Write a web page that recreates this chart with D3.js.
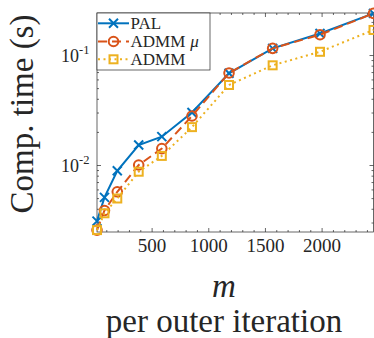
<!DOCTYPE html>
<html><head><meta charset="utf-8">
<script src="https://cdn.jsdelivr.net/npm/d3@7"></script>
<style>
html,body{margin:0;padding:0;background:#fff;}
svg{display:block;}
</style></head><body>
<svg id="c" width="374" height="338"></svg>
<script>
const mValues = [18, 84, 197, 386, 590, 856, 1183, 1568, 1986, 2458];
const palTimes = [0.00309, 0.00508, 0.00887, 0.0152, 0.0181, 0.0300, 0.0682, 0.115, 0.157, 0.239];
const admmMuTimes = [0.00256, 0.00386, 0.00571, 0.0100, 0.0141, 0.0279, 0.0686, 0.115, 0.153, 0.239];
const admmTimes = [0.00256, 0.00364, 0.00496, 0.00869, 0.0121, 0.0221, 0.0534, 0.0806, 0.107, 0.169];
const seriesNames = ["PAL", "ADMM", "ADMM"];
const xTickValues = [500, 1000, 1500, 2000];
const yTickValues = [0.01, 0.1];
const yTickExponents = ["-2", "-1"];
const xLimits = [18, 2458];
const yLimits = [0.00246, 0.241];

const FONT = "Liberation Serif";
const svg = d3.select("#c");
const L = 97, R = 373.5, T = 13, B = 232;
const x = d3.scaleLinear().domain(xLimits).range([L, R]);
const y = d3.scaleLog().domain(yLimits).range([B, T]);
const axisColor = "#262626";

const gx = svg.append("g").attr("transform", `translate(0,${B})`)
  .call(d3.axisBottom(x).tickValues(xTickValues).tickSize(-4).tickSizeOuter(0).tickPadding(7).tickFormat(d3.format("d")));
svg.append("g").attr("transform", `translate(0,${T})`)
  .call(d3.axisTop(x).tickValues(xTickValues).tickSize(-4).tickSizeOuter(0).tickFormat(""));
const minorX = d3.range(100, 2458, 100).filter(v => v % 500 !== 0);
svg.append("g").attr("transform", `translate(0,${B})`)
  .call(d3.axisBottom(x).tickValues(minorX).tickSize(-2).tickSizeOuter(0).tickFormat(""));
svg.append("g").attr("transform", `translate(0,${T})`)
  .call(d3.axisTop(x).tickValues(minorX).tickSize(-2).tickSizeOuter(0).tickFormat(""));

svg.append("g").attr("transform", `translate(${L},0)`)
  .call(d3.axisLeft(y).tickValues(yTickValues).tickSize(-4).tickSizeOuter(0).tickFormat(""));
svg.append("g").attr("transform", `translate(${R},0)`)
  .call(d3.axisRight(y).tickValues(yTickValues).tickSize(-4).tickSizeOuter(0).tickFormat(""));
const minorY = [];
[0.001, 0.01, 0.1].forEach(d => { for (let k = 2; k <= 9; k++) { const v = d * k; if (v > yLimits[0] && v < yLimits[1]) minorY.push(v); } });
svg.append("g").attr("transform", `translate(${L},0)`)
  .call(d3.axisLeft(y).tickValues(minorY).tickSize(-2).tickSizeOuter(0).tickFormat(""));
svg.append("g").attr("transform", `translate(${R},0)`)
  .call(d3.axisRight(y).tickValues(minorY).tickSize(-2).tickSizeOuter(0).tickFormat(""));

svg.selectAll(".domain").remove();
svg.selectAll(".tick line").attr("stroke", axisColor).attr("stroke-width", 0.7);
gx.selectAll(".tick text").attr("font-size", 19).attr("fill", axisColor)
  .attr("font-family", FONT);

yTickValues.forEach((v, i) => {
  const t = svg.append("text").attr("x", 89.5).attr("y", y(v) + 6.5).attr("fill", axisColor)
    .attr("text-anchor", "end").attr("font-size", 18).attr("font-family", FONT);
  t.append("tspan").text("10");
  t.append("tspan").attr("font-size", 12.5).attr("dy", -8).text(yTickExponents[i]);
});

svg.append("rect").attr("x", L).attr("y", T).attr("width", R - L).attr("height", B - T)
  .attr("fill", "none").attr("stroke", axisColor).attr("stroke-width", 0.7);

const colors = ["#0072BD", "#D95319", "#EDB120"];
const dashes = [null, "9,5", "2,3.5"];
const allSeries = [palTimes, admmMuTimes, admmTimes];
const line = d3.line().x((d, i) => x(mValues[i])).y(d => y(d));

function drawMarker(g, kind, cx, cy, color) {
  if (kind === 0) {
    const s = 4.5;
    g.append("path").attr("d", `M${cx - s},${cy - s}L${cx + s},${cy + s}M${cx - s},${cy + s}L${cx + s},${cy - s}`)
      .attr("stroke", color).attr("stroke-width", 2).attr("fill", "none");
  } else if (kind === 1) {
    g.append("circle").attr("cx", cx).attr("cy", cy).attr("r", 4.8)
      .attr("stroke", color).attr("stroke-width", 2).attr("fill", "none");
  } else {
    const s = 4;
    g.append("rect").attr("x", cx - s).attr("y", cy - s).attr("width", 2 * s).attr("height", 2 * s)
      .attr("stroke", color).attr("stroke-width", 2).attr("fill", "none");
  }
}

allSeries.forEach((vals, k) => {
  const g = svg.append("g");
  g.append("path").datum(vals).attr("d", line).attr("fill", "none")
    .attr("stroke", colors[k]).attr("stroke-width", 2)
    .attr("stroke-dasharray", dashes[k]);
  vals.forEach((v, i) => drawMarker(g, k, x(mValues[i]), y(v), colors[k]));
});

const lg = svg.append("g");
lg.append("rect").attr("x", 97).attr("y", 13).attr("width", 113).attr("height", 57)
  .attr("fill", "#fff").attr("stroke", axisColor).attr("stroke-width", 0.7);
const rowY = [23.3, 41.5, 59.3];
seriesNames.forEach((name, k) => {
  lg.append("line").attr("x1", 98).attr("x2", 129).attr("y1", rowY[k]).attr("y2", rowY[k])
    .attr("stroke", colors[k]).attr("stroke-width", 2).attr("stroke-dasharray", dashes[k]);
  drawMarker(lg, k, 113.5, rowY[k], colors[k]);
  const t = lg.append("text").attr("x", 130.5).attr("y", rowY[k] + 5.5).attr("font-size", 17)
    .attr("fill", axisColor).attr("font-family", FONT).text(name);
  if (k === 1) t.append("tspan").attr("font-style", "italic").attr("dx", 5).text("μ");
});

svg.append("text").attr("x", 224).attr("y", 297).attr("text-anchor", "middle").attr("font-family", FONT)
  .attr("fill", axisColor).attr("font-size", 33).attr("font-style", "italic").text("m");
svg.append("text").attr("x", 224).attr("y", 332).attr("text-anchor", "middle").attr("font-family", FONT)
  .attr("fill", axisColor).attr("font-size", 33).text("per outer iteration");
svg.append("text").attr("transform", "translate(33,114) rotate(-90)").attr("text-anchor", "middle").attr("font-family", FONT)
  .attr("fill", axisColor).attr("font-size", 33).text("Comp. time (s)");
</script>
</body></html>
